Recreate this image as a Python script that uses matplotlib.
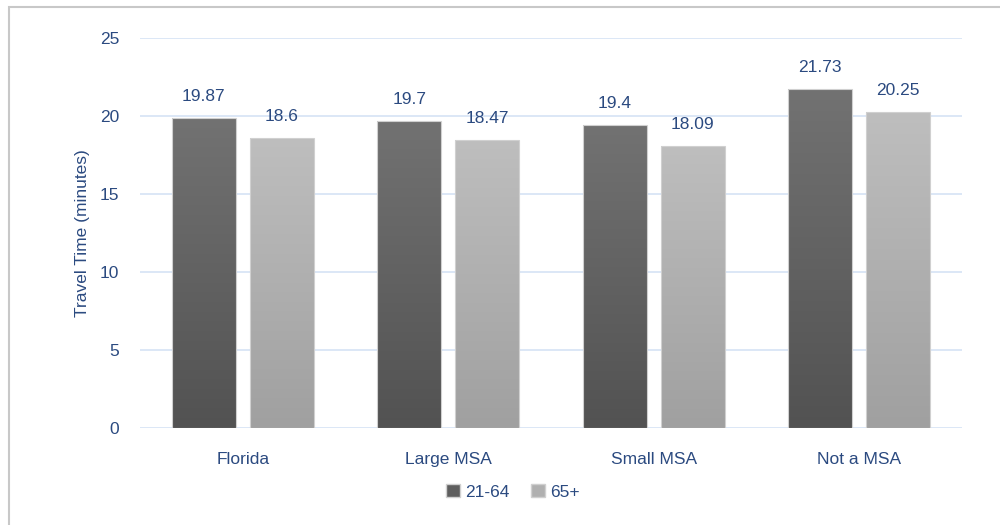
import numpy as np
import matplotlib
matplotlib.use("Agg")
import matplotlib.pyplot as plt
from matplotlib.patches import Rectangle, Patch
from matplotlib.colors import LinearSegmentedColormap

categories = ["Florida", "Large MSA", "Small MSA", "Not a MSA"]
series_names = ["21-64", "65+"]
values_21_64 = [19.87, 19.7, 19.4, 21.73]
values_65 = [18.6, 18.47, 18.09, 20.25]
value_labels_21_64 = ["19.87", "19.7", "19.4", "21.73"]
value_labels_65 = ["18.6", "18.47", "18.09", "20.25"]
yticks = [0, 5, 10, 15, 20, 25]

TXT = "#2b4a80"
GRID = "#d6e3f5"
plt.rcParams['font.family'] = ['Liberation Sans', 'DejaVu Sans']

fig = plt.figure(figsize=(10, 5.25), dpi=100)
# outer chart frame (extends past right/bottom edge)
fig.patches.append(Rectangle((9/1000, -0.1), 1.1, 1 - 7/525 + 0.1, transform=fig.transFigure,
                             fill=False, edgecolor="#c8c8c8", linewidth=1.5))

ax = fig.add_axes([0.14, 1 - 428/525, 0.822, (428 - 38)/525])
ax.set_xlim(-0.5, 3.5)
ax.set_ylim(0, 25)
ax.set_yticks(yticks)
ax.yaxis.grid(True, color=GRID, linewidth=1.2)
ax.set_axisbelow(True)
for s in ax.spines.values():
    s.set_visible(False)
ax.tick_params(axis='both', length=0, labelsize=12.5, labelcolor=TXT)
ax.tick_params(axis='y', pad=15)
ax.tick_params(axis='x', pad=17)
x = np.arange(len(categories))
ax.set_xticks(x)
ax.set_xticklabels(categories)
ax.set_ylabel("Travel Time (minutes)", color=TXT, fontsize=12.5)
ax.yaxis.set_label_coords(-0.061, 0.5)

w = 0.31
off = 0.19
grad_dark = LinearSegmentedColormap.from_list("d", ["#525252", "#727272"])
grad_light = LinearSegmentedColormap.from_list("l", ["#a0a0a0", "#bebebe"])
grad = np.linspace(0, 1, 256).reshape(-1, 1)

def draw(vals, labels, dx, cmap, name):
    bars = ax.bar(x + dx, vals, width=w, color="none", edgecolor="#d0d0d0", linewidth=0.8, label=name, zorder=3)
    for b, lab in zip(bars, labels):
        x0 = b.get_x()
        im = ax.imshow(grad, extent=[x0, x0 + b.get_width(), 0, b.get_height()], origin='lower',
                       cmap=cmap, aspect='auto', zorder=2)
        im.set_clip_path(b)
        ax.annotate(lab, (b.get_x() + b.get_width()/2, b.get_height()), xytext=(0, 10),
                    textcoords='offset points', ha='center', va='bottom', color=TXT, fontsize=12.5)
    return bars

draw(values_21_64, value_labels_21_64, -off, grad_dark, series_names[0])
draw(values_65, value_labels_65, off, grad_light, series_names[1])
ax.set_xlim(-0.5, 3.5)
ax.set_ylim(0, 25)

handles = [Patch(facecolor="#5e5e5e", edgecolor="#d0d0d0"), Patch(facecolor="#b0b0b0", edgecolor="#d0d0d0")]
leg = fig.legend(handles, series_names, loc='center', bbox_to_anchor=(0.513, 1 - 492/525), ncol=2,
                 frameon=False, fontsize=12.5, handlelength=0.8, handleheight=0.8, handletextpad=0.3,
                 columnspacing=1.2)
for t in leg.get_texts():
    t.set_color(TXT)

fig.savefig("out.png", dpi=100)
